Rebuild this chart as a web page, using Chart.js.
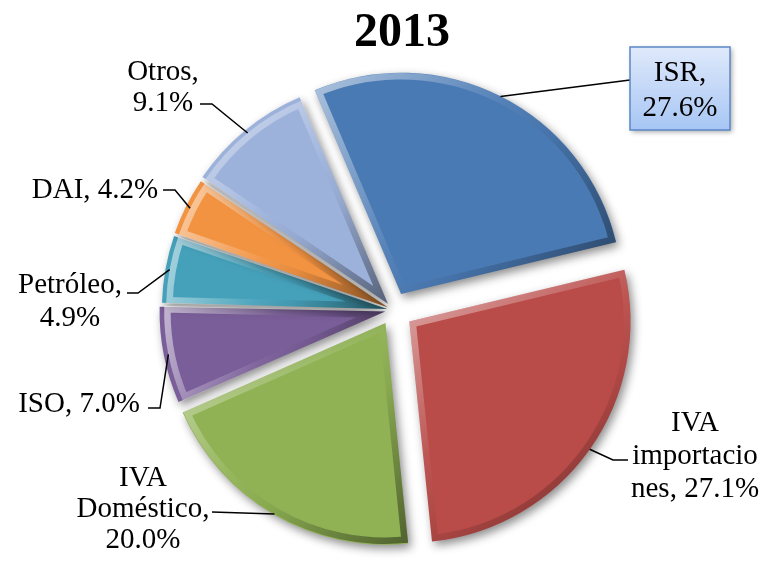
<!DOCTYPE html>
<html>
<head>
<meta charset="utf-8">
<script src="https://cdn.jsdelivr.net/npm/chart.js@4"></script>
<style>
  html, body { margin: 0; padding: 0; background: #fff; }
  #wrap { width: 769px; height: 563px; }
</style>
</head>
<body>
<div id="wrap"><canvas id="pieChart" width="769" height="563"></canvas></div>
<script>
// data
const chartTitle = '2013';
const categories = ['ISR', 'IVA importaciones', 'IVA Doméstico', 'ISO', 'Petróleo', 'DAI', 'Otros'];
const shares = [27.6, 27.1, 20.0, 7.0, 4.9, 4.2, 9.1];

// styling
const sliceColors = ['#4a7ab4', '#b94c49', '#90b254', '#7a5e99', '#45a1ba', '#f29342', '#9db2db'];
const explodePx = [18, 20, 15, 8, 6, 6, 8];
const FONT = '"Liberation Serif", "Times New Roman", serif';

// label layout: line cuts, text centre, leader path start / elbow
const labelLayout = [
    { cuts: [4], x: 680, y: 73, lh: 35, from: [630, 80], elbow: null, box: true },
    { cuts: [3, 14], x: 695, y: 423, lh: 33, from: [628, 460], elbow: [613, 460] },
    { cuts: [3, 14], x: 143, y: 478, lh: 31, from: [212, 512], elbow: null },
    { cuts: [], x: 79, y: 404, lh: 32, from: [148, 408], elbow: [160, 408] },
    { cuts: [9], x: 70, y: 285, lh: 33, from: [127, 293], elbow: [138, 293] },
    { cuts: [], x: 95, y: 190, lh: 32, from: [163, 190], elbow: [175, 190] },
    { cuts: [6], x: 163, y: 72, lh: 31, from: [200, 104], elbow: [212, 104] }
];

function splitLabel(text, cuts) {
    const lines = [];
    let prev = 0;
    cuts.forEach(c => { lines.push(text.slice(prev, c).trim()); prev = c; });
    lines.push(text.slice(prev).trim());
    return lines;
}

function slicePlacement(arc) {
    const p = arc.getProps(['x', 'y', 'startAngle', 'endAngle', 'outerRadius']);
    const off = (arc.options.offset || 0) / 4;
    const mid = (p.startAngle + p.endAngle) / 2;
    return {
        cx: p.x + Math.cos(mid) * off,
        cy: p.y + Math.sin(mid) * off,
        r: p.outerRadius, a0: p.startAngle, a1: p.endAngle, mid: mid
    };
}

const bevelPlugin = {
    id: 'bevel',
    beforeDatasetsDraw(chart) {
        const ctx = chart.ctx;
        ctx.save();
        ctx.shadowColor = 'rgba(0,0,0,0.45)';
        ctx.shadowBlur = 10;
        ctx.shadowOffsetX = 3;
        ctx.shadowOffsetY = 4;
    },
    afterDatasetsDraw(chart) {
        const ctx = chart.ctx;
        ctx.restore();
        chart.getDatasetMeta(0).data.forEach(arc => {
            const s = slicePlacement(arc);
            // bounding box of the slice
            let minX = s.cx, maxX = s.cx, minY = s.cy, maxY = s.cy;
            for (let k = 0; k <= 20; k++) {
                const a = s.a0 + (s.a1 - s.a0) * k / 20;
                const px = s.cx + Math.cos(a) * s.r, py = s.cy + Math.sin(a) * s.r;
                minX = Math.min(minX, px); maxX = Math.max(maxX, px);
                minY = Math.min(minY, py); maxY = Math.max(maxY, py);
            }
            ctx.save();
            ctx.beginPath();
            ctx.moveTo(s.cx, s.cy);
            ctx.arc(s.cx, s.cy, s.r, s.a0, s.a1);
            ctx.closePath();
            ctx.clip();
            const g = ctx.createLinearGradient(minX, minY, maxX, maxY);
            g.addColorStop(0, 'rgba(255,255,255,0.55)');
            g.addColorStop(0.45, 'rgba(255,255,255,0.05)');
            g.addColorStop(0.6, 'rgba(0,0,0,0.05)');
            g.addColorStop(1, 'rgba(0,0,0,0.45)');
            ctx.strokeStyle = g;
            ctx.lineWidth = 13;
            ctx.lineJoin = 'miter';
            ctx.stroke();
            ctx.restore();
        });
    }
};

const labelPlugin = {
    id: 'sliceLabels',
    afterDraw(chart) {
        const ctx = chart.ctx;
        // title
        ctx.save();
        ctx.fillStyle = '#000';
        ctx.font = 'bold 48px ' + FONT;
        ctx.textAlign = 'center';
        ctx.textBaseline = 'middle';
        ctx.fillText(chartTitle, 402, 34);
        ctx.restore();

        const arcs = chart.getDatasetMeta(0).data;
        arcs.forEach((arc, i) => {
            const s = slicePlacement(arc);
            const L = labelLayout[i];
            const text = categories[i] + ', ' + shares[i].toFixed(1) + '%';
            const lines = splitLabel(text, L.cuts);

            // leader line
            const ex = s.cx + Math.cos(s.mid) * s.r;
            const ey = s.cy + Math.sin(s.mid) * s.r;
            ctx.save();
            ctx.strokeStyle = '#000';
            ctx.lineWidth = 1.5;
            ctx.beginPath();
            ctx.moveTo(L.from[0], L.from[1]);
            if (L.elbow) ctx.lineTo(L.elbow[0], L.elbow[1]);
            ctx.lineTo(ex, ey);
            ctx.stroke();
            ctx.restore();

            ctx.save();
            ctx.font = '29px ' + FONT;
            ctx.textAlign = 'center';
            ctx.textBaseline = 'middle';
            if (L.box) {
                const bx = 630, by = 47, bw = 100, bh = 83;
                ctx.save();
                ctx.shadowColor = 'rgba(0,0,0,0.35)';
                ctx.shadowBlur = 5;
                ctx.shadowOffsetX = 2;
                ctx.shadowOffsetY = 2;
                const g = ctx.createLinearGradient(0, by, 0, by + bh);
                g.addColorStop(0, '#dfe9fb');
                g.addColorStop(1, '#a7c6f4');
                ctx.fillStyle = g;
                ctx.fillRect(bx, by, bw, bh);
                ctx.restore();
                ctx.strokeStyle = '#5b88c6';
                ctx.lineWidth = 1.5;
                ctx.strokeRect(bx, by, bw, bh);
            }
            ctx.fillStyle = '#000';
            lines.forEach((ln, k) => ctx.fillText(ln, L.x, L.y + k * L.lh));
            ctx.restore();
        });
    }
};

const ctx = document.getElementById('pieChart').getContext('2d');
new Chart(ctx, {
    type: 'pie',
    data: {
        labels: categories,
        datasets: [{
            data: shares,
            backgroundColor: sliceColors,
            borderWidth: 0,
            offset: explodePx.map(v => v * 4),
            hoverOffset: 0
        }]
    },
    options: {
        responsive: false,
        animation: false,
        rotation: -23,
        radius: 221,
        layout: { padding: { left: 30, right: 13, top: 66, bottom: 9 } },
        events: [],
        plugins: {
            legend: { display: false },
            title: { display: false },
            tooltip: { enabled: false }
        }
    },
    plugins: [bevelPlugin, labelPlugin]
});
</script>
</body>
</html>
